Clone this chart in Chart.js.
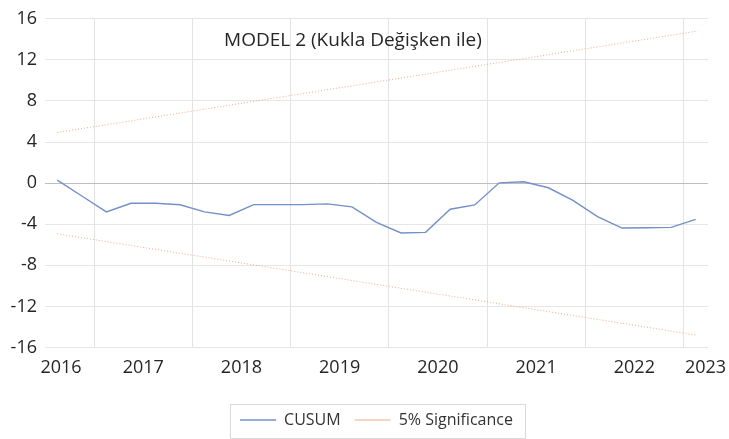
<!DOCTYPE html>
<html>
<head>
<meta charset="utf-8">
<script src="https://cdn.jsdelivr.net/npm/chart.js@4"></script>
<style>
    html, body { margin: 0; padding: 0; background: #fff; }
    #wrap { width: 729px; height: 439px; }
</style>
</head>
<body>
<div id="wrap"><canvas id="cusumChart"></canvas></div>
<script>
// CUSUM değerleri (çeyreklik, 27 gözlem)
const cusum = [0.29, -1.25, -2.8, -1.96, -1.96, -2.1, -2.8, -3.15, -2.09, -2.09,
    -2.09, -2.02, -2.31, -3.82, -4.85, -4.79, -2.54, -2.12, 0.03, 0.13,
    -0.45, -1.67, -3.25, -4.37, -4.34, -4.31, -3.53];

// %5 anlamlılık sınırları: düz çizgi, sadece başlangıç ve bitiş değerleri
const upperBound = [4.93, 14.78];
const lowerBound = [-4.93, -14.78];

// Eksen yazıları
const years = ['2016', '2017', '2018', '2019', '2020', '2021', '2022', '2023'];
const yTicks = [-16, -12, -8, -4, 0, 4, 8, 12, 16];

const n = cusum.length;
const cusumPoints = cusum.map((v, i) => ({ x: i, y: v }));
const upperPoints = [{ x: 0, y: upperBound[0] }, { x: n - 1, y: upperBound[1] }];
const lowerPoints = [{ x: 0, y: lowerBound[0] }, { x: n - 1, y: lowerBound[1] }];

// dikey çizgiler her 4 çeyrekte bir, yıl yazıları aralarında
const gridPos = [];
for (let p = 1.5; p < n; p += 4) gridPos.push(p);
const labelPos = [0.15];
for (let k = 1; k < years.length - 1; k++) labelPos.push(4 * k - 0.5);
labelPos.push(n - 0.6);

const FONT = "'Open Sans', sans-serif";

// grafik başlığı, çizim alanının içinde
const insideTitle = {
    id: 'insideTitle',
    afterDraw(chart) {
        const c = chart.ctx;
        const a = chart.chartArea;
        c.save();
        c.font = "19px " + FONT;
        c.fillStyle = '#262626';
        c.textAlign = 'center';
        c.textBaseline = 'middle';
        c.fillText('MODEL 2 (Kukla Değişken ile)', a.left + 308, a.top + 22);
        c.restore();
    }
};

// lejant etrafına ince çerçeve
const legendFrame = {
    id: 'legendFrame',
    afterDraw(chart) {
        const lg = chart.legend;
        if (!lg || !lg.legendHitBoxes.length) return;
        const boxes = lg.legendHitBoxes;
        const left = boxes[0].left - 10;
        const right = boxes[boxes.length - 1].left + boxes[boxes.length - 1].width + 12;
        const cy = boxes[0].top + boxes[0].height / 2;
        const c = chart.ctx;
        c.save();
        c.strokeStyle = '#d9d9d9';
        c.lineWidth = 1;
        c.strokeRect(Math.round(left) + 0.5, Math.round(cy - 16) + 0.5, Math.round(right - left), 34);
        c.restore();
    }
};

const ctx = document.getElementById('cusumChart').getContext('2d');

const cusumChart = new Chart(ctx, {
    type: 'line',
    data: {
        datasets: [
            {
                label: 'CUSUM',
                data: cusumPoints,
                borderColor: '#7490c8',
                borderWidth: 1.4,
                pointRadius: 0,
                tension: 0
            },
            {
                label: '5% Significance',
                data: upperPoints,
                borderColor: '#eeaa84',
                borderWidth: 1,
                borderDash: [1, 2],
                pointRadius: 0,
                tension: 0
            },
            {
                label: 'lower',
                data: lowerPoints,
                borderColor: '#eeaa84',
                borderWidth: 1,
                borderDash: [1, 2],
                pointRadius: 0,
                tension: 0
            }
        ]
    },
    options: {
        responsive: true,
        maintainAspectRatio: false,
        animation: false,
        layout: {
            padding: { top: 12.5, right: 21, bottom: 1, left: 0 }
        },
        scales: {
            x: {
                type: 'linear',
                min: -0.5,
                max: n - 0.5,
                afterFit: (scale) => {
                    scale.height = 50.5;
                    scale.paddingLeft = 0;
                    scale.paddingRight = 0;
                },
                afterBuildTicks: (scale) => {
                    const t = gridPos.concat(labelPos).sort((a, b) => a - b);
                    scale.ticks = t.map(v => ({ value: v }));
                },
                border: { display: false },
                grid: {
                    drawTicks: false,
                    color: (c) => gridPos.includes(c.tick.value) ? '#e3e3e3' : 'rgba(0,0,0,0)'
                },
                ticks: {
                    autoSkip: false,
                    maxRotation: 0,
                    padding: 9.5,
                    color: '#262626',
                    font: { family: FONT, size: 18 },
                    callback: (v) => {
                        const k = labelPos.indexOf(v);
                        return k >= 0 ? years[k] : '';
                    }
                }
            },
            y: {
                min: -16,
                max: 16,
                afterFit: (scale) => { scale.width = 45; },
                afterBuildTicks: (scale) => {
                    scale.ticks = yTicks.map(v => ({ value: v }));
                },
                border: { display: false },
                grid: {
                    drawTicks: false,
                    color: (c) => c.tick.value === 0 ? '#bfbfbf' : '#e6e6e6'
                },
                ticks: {
                    padding: 8,
                    color: '#262626',
                    font: { family: FONT, size: 18 }
                }
            }
        },
        plugins: {
            legend: {
                position: 'bottom',
                fullSize: false,
                labels: {
                    usePointStyle: true,
                    pointStyle: 'line',
                    pointStyleWidth: 36,
                    padding: 14,
                    color: '#333',
                    font: { family: FONT, size: 16 },
                    filter: (item) => item.datasetIndex < 2
                }
            },
            tooltip: { enabled: false }
        }
    },
    plugins: [insideTitle, legendFrame]
});
</script>
</body>
</html>
